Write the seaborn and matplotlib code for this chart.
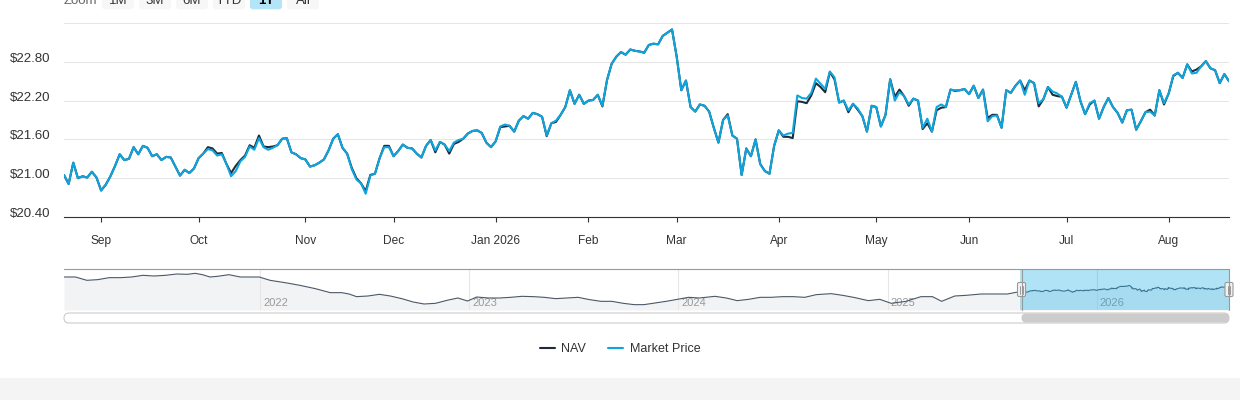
import numpy as np
import pandas as pd
import matplotlib
matplotlib.use('Agg')
import matplotlib.pyplot as plt
import matplotlib.transforms as mtransforms
from matplotlib.patches import FancyBboxPatch, Rectangle
import seaborn as sns


#################### Data ####################

# market holidays dropped from the business day range
holidays = ['2025-09-01', '2025-11-27', '2025-12-25', '2026-01-01', '2026-01-19',
            '2026-02-16', '2026-04-03', '2026-05-25', '2026-06-19', '2026-07-03']

# daily market price, Aug 20 2025 -> Aug 20 2026
market_price = [
    21.05, 20.91, 21.24, 21.00, 21.03, 21.01, 21.10, 21.01, 20.81, 20.90,
    21.03, 21.19, 21.37, 21.28, 21.30, 21.48, 21.37, 21.50, 21.47, 21.34,
    21.37, 21.28, 21.33, 21.32, 21.18, 21.04, 21.13, 21.08, 21.15, 21.31,
    21.38, 21.45, 21.43, 21.35, 21.37, 21.22, 21.03, 21.11, 21.26, 21.33,
    21.49, 21.44, 21.62, 21.48, 21.44, 21.47, 21.51, 21.61, 21.62, 21.40,
    21.37, 21.31, 21.29, 21.18, 21.20, 21.24, 21.29, 21.43, 21.61, 21.68,
    21.47, 21.38, 21.14, 20.98, 20.92, 20.76, 21.04, 21.07, 21.31, 21.48,
    21.48, 21.34, 21.42, 21.52, 21.47, 21.46, 21.38, 21.32, 21.50, 21.59,
    21.43, 21.56, 21.52, 21.42, 21.55, 21.59, 21.61, 21.69, 21.73, 21.74,
    21.70, 21.55, 21.48, 21.57, 21.80, 21.83, 21.81, 21.72, 21.89,
    21.96, 21.92, 22.01, 21.99, 21.95, 21.66, 21.85, 21.89, 21.98, 22.10,
    22.36, 22.15, 22.29, 22.15, 22.20, 22.21, 22.29, 22.12, 22.52, 22.77,
    22.88, 22.95, 22.91, 22.99, 22.97, 22.96, 22.94, 23.06, 23.08, 23.07,
    23.20, 23.25, 23.30, 22.88, 22.36, 22.51, 22.10, 22.03, 22.14, 22.12,
    22.03, 21.78, 21.55, 21.90, 21.97, 21.66, 21.61, 21.05, 21.46, 21.34,
    21.60, 21.22, 21.11, 21.07, 21.50, 21.74, 21.66, 21.69, 21.70, 22.28,
    22.24, 22.23, 22.32, 22.54, 22.46, 22.38, 22.65, 22.56, 22.17, 22.20,
    22.05, 22.15, 22.08, 21.96, 21.72, 22.12, 22.10, 21.80, 21.98, 22.53,
    22.20, 22.33, 22.27, 22.14, 22.23, 22.20, 21.78, 21.92, 21.72, 22.10,
    22.14, 22.10, 22.37, 22.36, 22.36, 22.38, 22.30, 22.43, 22.24, 22.37,
    21.88, 21.96, 21.97, 21.78, 22.36, 22.32, 22.43, 22.51, 22.29, 22.51,
    22.47, 22.16, 22.22, 22.41, 22.34, 22.31, 22.26, 22.09, 22.29, 22.49,
    22.19, 21.99, 22.16, 22.20, 21.92, 22.10, 22.24, 22.10, 22.01, 21.86,
    22.05, 22.06, 21.75, 21.88, 22.02, 22.03, 21.97, 22.36, 22.16, 22.31,
    22.59, 22.63, 22.55, 22.76, 22.62, 22.63, 22.73, 22.81, 22.70, 22.67,
    22.47, 22.61, 22.50,
]

# daily NAV over the same days
nav = [
    21.05, 20.91, 21.24, 21.00, 21.03, 21.01, 21.10, 21.01, 20.81, 20.90,
    21.03, 21.19, 21.37, 21.28, 21.30, 21.48, 21.37, 21.50, 21.47, 21.34,
    21.37, 21.28, 21.33, 21.32, 21.18, 21.04, 21.13, 21.08, 21.15, 21.31,
    21.38, 21.48, 21.46, 21.38, 21.39, 21.22, 21.08, 21.19, 21.28, 21.35,
    21.51, 21.47, 21.66, 21.49, 21.48, 21.49, 21.51, 21.61, 21.62, 21.40,
    21.37, 21.31, 21.29, 21.18, 21.20, 21.24, 21.29, 21.43, 21.61, 21.68,
    21.47, 21.38, 21.16, 21.00, 20.92, 20.80, 21.05, 21.07, 21.31, 21.50,
    21.50, 21.34, 21.42, 21.52, 21.47, 21.46, 21.38, 21.32, 21.50, 21.59,
    21.40, 21.56, 21.52, 21.38, 21.53, 21.56, 21.61, 21.69, 21.73, 21.74,
    21.70, 21.55, 21.48, 21.57, 21.79, 21.80, 21.81, 21.72, 21.89,
    21.96, 21.92, 22.01, 21.99, 21.95, 21.65, 21.85, 21.87, 21.98, 22.10,
    22.36, 22.15, 22.29, 22.15, 22.20, 22.21, 22.29, 22.11, 22.52, 22.77,
    22.88, 22.95, 22.91, 22.99, 22.97, 22.96, 22.94, 23.06, 23.08, 23.07,
    23.20, 23.25, 23.30, 22.88, 22.36, 22.51, 22.10, 22.03, 22.14, 22.12,
    22.03, 21.78, 21.55, 21.90, 21.99, 21.66, 21.61, 21.05, 21.46, 21.34,
    21.60, 21.22, 21.11, 21.07, 21.50, 21.74, 21.64, 21.64, 21.62, 22.19,
    22.18, 22.16, 22.28, 22.47, 22.41, 22.33, 22.64, 22.53, 22.17, 22.20,
    22.02, 22.15, 22.06, 21.96, 21.72, 22.12, 22.10, 21.80, 21.98, 22.53,
    22.26, 22.37, 22.27, 22.12, 22.23, 22.20, 21.76, 21.85, 21.72, 22.05,
    22.09, 22.10, 22.37, 22.35, 22.36, 22.38, 22.30, 22.43, 22.24, 22.37,
    21.93, 21.98, 21.98, 21.78, 22.36, 22.32, 22.43, 22.51, 22.36, 22.51,
    22.47, 22.11, 22.22, 22.41, 22.29, 22.27, 22.26, 22.09, 22.29, 22.49,
    22.19, 21.99, 22.14, 22.20, 21.92, 22.10, 22.24, 22.10, 22.01, 21.86,
    22.05, 22.06, 21.75, 21.88, 22.02, 22.06, 21.97, 22.36, 22.14, 22.31,
    22.58, 22.63, 22.55, 22.76, 22.65, 22.68, 22.73, 22.81, 22.70, 22.67,
    22.47, 22.61, 22.50,
]

# older NAV history shown only in the navigator
hist_dates = [
    '2021-01-23', '2021-02-12', '2021-03-04', '2021-03-23', '2021-04-12', '2021-05-02',
    '2021-05-21', '2021-06-10', '2021-06-29', '2021-07-19', '2021-08-08', '2021-08-27',
    '2021-09-09', '2021-09-22', '2021-10-05', '2021-10-18', '2021-11-07', '2021-11-27',
    '2021-12-17', '2021-12-30', '2022-01-18', '2022-02-13', '2022-03-11', '2022-04-07',
    '2022-05-03', '2022-05-23', '2022-06-05', '2022-06-18', '2022-07-08', '2022-07-28',
    '2022-08-16', '2022-09-05', '2022-09-25', '2022-10-14', '2022-11-03', '2022-11-23',
    '2022-12-12', '2022-12-29', '2023-01-14', '2023-02-03', '2023-02-23', '2023-03-14',
    '2023-04-03', '2023-04-23', '2023-05-12', '2023-06-01', '2023-06-21', '2023-07-10',
    '2023-07-30', '2023-08-19', '2023-09-07', '2023-09-27', '2023-10-16', '2023-11-02',
    '2023-11-21', '2023-12-11', '2023-12-30', '2024-01-19', '2024-02-07', '2024-03-05',
    '2024-03-25', '2024-04-13', '2024-05-03', '2024-05-23', '2024-06-11', '2024-07-01',
    '2024-07-20', '2024-08-09', '2024-08-29', '2024-09-24', '2024-10-14', '2024-11-02',
    '2024-11-28', '2024-12-18', '2025-01-07', '2025-02-02', '2025-02-28', '2025-03-20',
    '2025-04-05', '2025-04-28', '2025-05-18', '2025-06-13', '2025-07-09', '2025-07-29',
]
hist_nav = [
    26.44, 26.44, 25.21, 25.46, 26.20, 26.20,
    26.44, 27.06, 26.81, 27.06, 27.55, 27.43,
    27.80, 27.30, 26.44, 26.69, 27.30, 26.44,
    26.44, 26.44, 25.21, 24.35, 23.36, 22.13,
    20.65, 20.65, 20.15, 19.17, 19.41, 20.03,
    19.41, 18.43, 17.19, 16.45, 16.70, 17.81,
    18.67, 17.56, 19.04, 18.67, 18.67, 18.92,
    19.29, 19.17, 18.92, 18.43, 18.67, 18.92,
    18.06, 17.44, 17.44, 16.70, 16.21, 16.21,
    16.82, 17.44, 18.18, 18.92, 18.67, 19.29,
    18.67, 17.69, 18.18, 18.92, 18.92, 19.17,
    19.17, 18.92, 19.91, 20.28, 19.66, 18.92,
    17.69, 18.18, 16.70, 17.44, 19.17, 19.17,
    17.44, 19.41, 19.66, 20.15, 20.15, 20.15,
]

y_ticks = [20.40, 21.00, 21.60, 22.20, 22.80, 23.40]
y_labels = [r'\$20.40', r'\$21.00', r'\$21.60', r'\$22.20', r'\$22.80', '']
nav_years = ['2022', '2023', '2024', '2025', '2026']
zoom_buttons = ['1M', '3M', '6M', 'YTD', '1Y', 'All']
selected_button = '1Y'


#################### Plot ####################

NAV_COLOR = '#1d2b3a'
PRICE_COLOR = '#0ea5de'
TEXT_COLOR = '#333333'
GRID_COLOR = '#e6e6e6'

sns.set_theme(style='white')
plt.rcParams['font.family'] = ['Liberation Sans', 'DejaVu Sans']

# trading days for the 1Y window, drawn on an ordinal axis like highstock
trade_days = pd.bdate_range('2025-08-20', '2026-08-20')
trade_days = trade_days[~trade_days.isin(pd.to_datetime(holidays))]
pos = np.arange(len(trade_days))

# first trading day of each month gets a tick
month_pos = [i for i in range(1, len(trade_days))
             if trade_days[i].month != trade_days[i - 1].month]
month_labels = [trade_days[i].strftime('%b %Y') if trade_days[i].month == 1
                else trade_days[i].strftime('%b') for i in month_pos]

W, H = 1240, 400
fig = plt.figure(figsize=(W / 100, H / 100), dpi=100)
fig.patch.set_facecolor('white')

# main price axes
ax = fig.add_axes([64 / W, 1 - 217 / H, 1165 / W, 194 / H])
sns.lineplot(x=pos, y=nav, color=NAV_COLOR, lw=1.5, ax=ax, label='NAV')
sns.lineplot(x=pos, y=market_price, color=PRICE_COLOR, lw=1.5, ax=ax,
             label='Market Price')
ax.set_xlim(pos[0], pos[-1])
ax.set_ylim(20.40, 23.40)
ax.set_yticks(y_ticks)
ax.set_yticklabels(y_labels)
ax.set_xticks(month_pos)
ax.set_xticklabels(month_labels)
# lift the y labels just above their grid line
lift = mtransforms.ScaledTranslation(0, 2 / 100, fig.dpi_scale_trans)
for lab in ax.get_yticklabels():
    lab.set_verticalalignment('baseline')
    lab.set_transform(lab.get_transform() + lift)
ax.yaxis.grid(True, color=GRID_COLOR, lw=0.75)
ax.xaxis.grid(False)
ax.set_axisbelow(True)
for side in ['top', 'right', 'left']:
    ax.spines[side].set_visible(False)
ax.spines['bottom'].set_color(TEXT_COLOR)
ax.spines['bottom'].set_linewidth(0.8)
ax.tick_params(axis='y', length=0, pad=9.6, labelsize=9.5, labelcolor=TEXT_COLOR)
ax.tick_params(axis='x', bottom=True, length=3.8, width=0.8, color=TEXT_COLOR,
               pad=9.5, labelsize=8.6, labelcolor=TEXT_COLOR)
ax.set_xlabel('')
ax.set_ylabel('')

# legend below the navigator
handles, labels = ax.get_legend_handles_labels()
ax.legend(handles, labels, loc='center', bbox_to_anchor=(0.5, 1 - 349.5 / H),
          bbox_transform=fig.transFigure, ncol=2, frameon=False, fontsize=9,
          handlelength=1.2, handletextpad=0.5, columnspacing=1.8,
          labelcolor=TEXT_COLOR)

# navigator with the whole history
ax_nav = fig.add_axes([64 / W, 1 - 310 / H, 1165 / W, 41 / H])
nav_dates = pd.to_datetime(hist_dates).append(trade_days)
nav_values = hist_nav + nav
ax_nav.set_xlim(pd.Timestamp('2021-01-23'), trade_days[-1])
ax_nav.set_ylim(14.23, 29.4)
ax_nav.fill_between(nav_dates, nav_values, 14.23, color='#f2f3f5', lw=0, zorder=1)
sns.lineplot(x=nav_dates, y=nav_values, color='#4a5868', lw=0.8, ax=ax_nav, zorder=3)
label_trans = mtransforms.offset_copy(ax_nav.get_xaxis_transform(), fig=fig,
                                      x=3, y=0, units='dots')
for year in nav_years:
    d = pd.Timestamp(f'{year}-01-01')
    ax_nav.axvline(d, color=GRID_COLOR, lw=0.8, zorder=2)
    ax_nav.text(d, 0.09, year, transform=label_trans, fontsize=8, color='#999999',
                ha='left', va='baseline', zorder=2)
# selected 1Y window
ax_nav.axvspan(trade_days[0], trade_days[-1], color='#1dafe5', alpha=0.35, lw=0, zorder=5)
ax_nav.axis('off')

# overlay in pixel units for the chrome around the chart
ax_over = fig.add_axes([0, 0, 1, 1], zorder=10)
ax_over.set_xlim(0, W)
ax_over.set_ylim(H, 0)
ax_over.axis('off')

# range selector, cut by the top edge as in the page
ax_over.text(64, 4, 'Zoom', fontsize=9.5, color='#666666', ha='left', va='baseline')
for k, name in enumerate(zoom_buttons):
    bx = 102 + 37 * k
    selected = name == selected_button
    ax_over.add_patch(FancyBboxPatch((bx, -14), 32, 23.3,
                                     boxstyle='round,pad=0,rounding_size=3',
                                     fc='#b3e4f7' if selected else '#f7f7f7', ec='none'))
    ax_over.text(bx + 16, 4, name, fontsize=9.5, ha='center', va='baseline',
                 color='#000000' if selected else TEXT_COLOR,
                 fontweight='bold' if selected else 'normal')

# navigator outline and handles
ax_over.plot([64, 1229], [269, 269], color='#999999', lw=0.8)
for hx in [1021.5, 1229]:
    ax_over.plot([hx, hx], [269, 310], color='#999999', lw=0.8)
    ax_over.add_patch(FancyBboxPatch((hx - 4, 282.5), 8, 14,
                                     boxstyle='round,pad=0,rounding_size=1.5',
                                     fc='#f2f2f2', ec='#999999', lw=0.8))
    for dx in [-1.2, 1.2]:
        ax_over.plot([hx + dx, hx + dx], [286, 293.5], color='#999999', lw=0.7)

# scrollbar
ax_over.add_patch(FancyBboxPatch((64, 313), 1165, 10,
                                 boxstyle='round,pad=0,rounding_size=5',
                                 fc='white', ec='#cccccc', lw=0.8))
ax_over.add_patch(FancyBboxPatch((1021.5, 313.5), 207.5, 9,
                                 boxstyle='round,pad=0,rounding_size=4.5',
                                 fc='#cccccc', ec='none'))

# grey footer band
ax_over.add_patch(Rectangle((0, 378), W, 22, fc='#f4f4f4', ec='none'))

fig.savefig('out.png', dpi=100)
